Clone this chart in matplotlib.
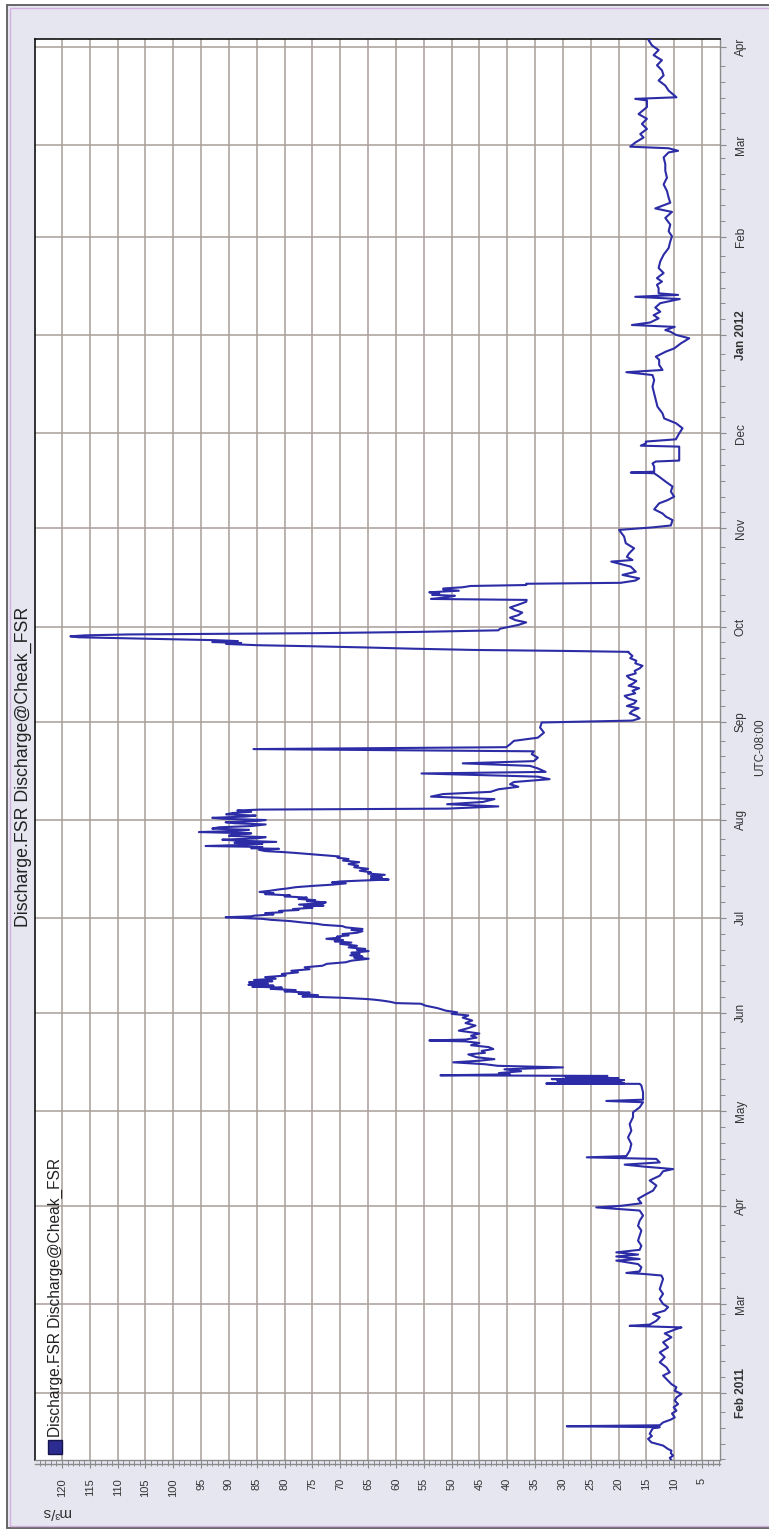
import numpy as np
import matplotlib
matplotlib.use("Agg")
import matplotlib.pyplot as plt
import matplotlib.dates as mdates
from matplotlib.patches import Rectangle
from matplotlib.lines import Line2D
from matplotlib.ticker import MultipleLocator, FixedLocator

plt.rcParams["font.family"] = ["Liberation Sans", "DejaVu Sans"]

# (days since 2011-02-01, discharge m3/s)
winter_2011 = [
    (-21.2, 10.5), (-20.5, 10.8), (-19.8, 10.2), (-19.0, 10.6), (-18.2, 10.5), (-17.7, 11.1),
    (-16.6, 12.0), (-15.6, 14.1), (-14.5, 14.7), (-13.6, 14.0), (-12.9, 14.4), (-11.9, 14.1),
    (-11.1, 13.8), (-10.8, 12.6), (-10.5, 29.3), (-10.2, 12.6), (-9.3, 12.0), (-8.4, 10.6),
    (-7.7, 9.9), (-6.5, 10.4), (-5.6, 9.6), (-4.5, 10.1), (-3.5, 9.3), (-2.4, 9.9), (-1.4, 9.6),
    (-0.3, 8.7), (0.7, 9.9), (1.8, 9.6), (2.8, 10.5), (3.9, 11.1), (5.5, 12.0), (6.5, 10.8),
    (8.1, 11.4), (9.7, 12.6), (11.3, 11.7), (12.8, 12.6), (14.4, 11.1), (16.0, 12.0), (17.6, 10.5),
    (18.8, 11.7), (20.2, 9.6), (20.7, 8.7), (21.2, 18.0), (21.6, 14.4), (22.8, 13.2), (23.9, 12.6),
    (24.9, 13.8), (26.0, 11.7), (27.1, 11.1), (28.1, 12.0), (29.7, 12.6), (31.3, 12.0), (32.8, 12.6),
    (34.4, 12.3), (36.0, 12.0), (37.1, 12.3), (37.6, 15.6), (37.9, 18.6), (38.4, 16.2), (39.7, 15.9),
    (40.7, 16.5), (41.8, 20.4), (42.3, 16.2), (43.1, 20.4), (43.7, 16.5), (44.4, 20.4), (45.2, 16.2),
    (46.5, 15.9), (48.1, 16.5), (49.7, 16.2), (51.3, 15.9), (52.8, 16.5), (54.4, 16.2), (56.0, 15.6),
    (57.6, 16.2), (58.6, 24.0), (59.1, 19.5), (59.9, 15.9), (61.3, 16.5), (62.8, 15.0), (63.9, 13.8),
    (65.5, 13.2), (67.1, 14.4), (68.6, 12.6), (70.0, 12.0), (70.7, 10.2), (71.5, 15.6), (72.1, 18.9),
    (72.8, 12.6), (73.9, 13.2), (74.4, 25.7), (74.8, 18.6), (76.5, 18.0), (78.6, 17.7), (80.7, 18.3),
    (82.8, 17.7), (84.9, 18.0), (87.1, 17.4), (88.6, 17.4), (90.2, 16.2), (91.8, 15.6), (92.2, 22.2),
    (92.6, 15.6), (94.9, 15.6), (97.1, 15.9),
]

freshet_may = [
    (97.6, 16.2), (97.7, 33.0), (97.8, 19.0), (98.1, 30.5), (98.3, 19.5), (98.6, 31.0), (98.8, 19.0),
    (99.1, 32.0), (99.4, 20.0), (99.8, 29.5), (100.1, 22.0), (100.3, 52.0), (100.6, 39.5),
    (101.0, 41.5), (101.6, 37.5), (102.2, 40.5), (102.8, 30.0), (103.3, 41.7), (103.8, 44.0),
    (104.4, 49.7), (104.9, 45.0), (105.4, 42.3), (106.0, 45.5), (106.9, 47.0), (107.4, 44.0),
    (108.0, 44.6), (108.6, 42.5), (109.2, 43.3), (109.8, 46.5), (110.5, 45.0), (111.0, 47.5),
    (111.3, 54.0), (111.6, 47.5), (112.2, 45.5), (112.8, 46.5), (113.5, 45.0), (114.4, 48.7),
    (115.2, 47.0), (116.0, 45.7), (116.8, 47.5), (117.6, 46.3), (118.5, 48.0), (119.2, 47.0),
    (119.7, 50.0), (120.2, 49.0), (120.7, 51.0), (121.5, 52.5), (122.3, 54.7), (122.9, 55.5),
    (123.1, 60.0), (123.5, 61.0), (123.9, 62.5), (124.2, 64.0),
]

summer_2011 = [
    (124.4, 65.4), (124.8, 70.0), (125.2, 76.8), (125.6, 74.0), (126.0, 77.5), (126.4, 75.5),
    (126.8, 80.0), (127.2, 78.0), (127.6, 82.5), (128.0, 80.5), (128.3, 85.8), (128.6, 82.0),
    (128.9, 86.5), (129.3, 83.0), (129.7, 86.4), (130.0, 82.2), (130.4, 85.5), (130.8, 81.6),
    (131.3, 83.5), (131.8, 79.8), (132.3, 80.5), (132.8, 77.6), (133.3, 78.8), (133.8, 75.5),
    (134.4, 76.4), (134.9, 73.2), (135.5, 72.4), (136.0, 69.0), (136.5, 68.0), (137.1, 64.9),
    (137.5, 67.5), (137.8, 66.0), (138.2, 68.2), (138.6, 66.5), (139.0, 68.0), (139.5, 64.9),
    (139.9, 67.0), (140.2, 65.5), (140.7, 68.5), (141.2, 67.0), (141.8, 70.0), (142.2, 68.0),
    (142.6, 71.0), (143.0, 69.5), (143.4, 72.5), (143.8, 70.0), (144.1, 70.6), (144.5, 68.5),
    (144.9, 69.6), (145.3, 67.0), (145.8, 66.0), (146.2, 68.0), (146.5, 66.0), (147.0, 69.0),
    (147.4, 69.6), (147.8, 73.0), (148.2, 74.5), (148.6, 77.0), (149.0, 79.0), (149.4, 82.5),
    (149.7, 84.0), (150.0, 88.0), (150.2, 90.6), (150.5, 86.0), (150.7, 85.5), (151.1, 82.0),
    (151.5, 83.5), (151.8, 80.4), (152.2, 81.0), (152.5, 77.5), (152.8, 78.5), (153.2, 75.0),
    (153.6, 76.5), (153.9, 73.0), (154.2, 77.4), (154.6, 73.5), (154.9, 72.6), (155.3, 76.0),
    (155.6, 74.5), (156.0, 77.5), (156.4, 76.0), (156.8, 80.0), (157.1, 79.0), (157.5, 83.5),
    (157.8, 82.0), (158.2, 84.5), (158.6, 82.5), (159.0, 81.0), (159.3, 79.5), (159.7, 78.0),
    (160.1, 75.0), (160.5, 71.4), (160.9, 69.0), (161.2, 71.5), (161.5, 70.0), (161.8, 66.0),
    (162.1, 61.3), (162.5, 64.5), (162.8, 62.5), (163.2, 64.5), (163.6, 62.0), (164.0, 65.0),
    (164.4, 64.5), (164.9, 66.5), (165.5, 65.0), (166.0, 67.5), (166.5, 66.8), (167.0, 68.5),
    (167.6, 66.6), (168.1, 69.5), (168.6, 68.5), (169.0, 70.5), (169.4, 70.2), (169.8, 73.0),
    (170.2, 75.6), (170.5, 78.0), (170.8, 80.4), (171.1, 83.5), (171.5, 84.6), (171.8, 81.0),
    (172.0, 86.0), (172.4, 84.0), (172.7, 94.2), (173.0, 88.0), (173.4, 84.0), (173.7, 89.0),
    (174.0, 81.5), (174.4, 88.5), (174.7, 91.2), (175.1, 85.0), (175.5, 83.4), (175.9, 90.0),
    (176.3, 89.4), (176.7, 86.0), (177.1, 95.4), (177.5, 88.0), (177.8, 86.4), (178.2, 93.0),
    (178.6, 91.8), (179.0, 86.0), (179.5, 83.4), (179.9, 89.0), (180.2, 90.6), (180.6, 85.0),
    (180.9, 83.4), (181.3, 91.0), (181.6, 93.0), (182.0, 87.0), (182.3, 85.2), (182.7, 90.5),
    (183.1, 89.4), (183.5, 86.0), (183.9, 88.5), (184.2, 84.5),
]

late_summer_2011 = [
    (184.5, 50.8), (185.2, 41.6), (185.9, 50.8), (186.6, 44.4), (187.5, 42.3), (188.3, 53.7),
    (189.1, 51.5), (189.8, 43.0), (190.6, 41.6), (191.4, 38.0), (192.2, 39.5), (192.9, 38.8),
    (193.8, 32.4), (194.6, 34.5), (195.6, 55.4), (196.1, 33.1), (197.2, 34.5), (198.0, 35.9),
    (198.8, 48.0), (199.5, 35.2), (200.6, 34.5), (201.7, 35.6), (202.6, 35.2), (203.3, 85.6),
    (203.9, 40.2), (204.8, 39.5), (205.9, 38.8), (206.9, 34.5), (208.5, 33.4), (210.1, 34.1),
    (211.7, 33.8), (212.3, 17.5), (213.0, 16.2), (213.8, 16.8), (214.6, 18.0), (215.4, 17.5),
    (216.2, 16.4), (216.9, 18.5), (217.7, 17.2), (218.5, 16.8), (219.3, 18.3), (220.1, 18.9),
    (220.9, 17.0), (221.7, 17.5), (222.5, 16.3), (223.3, 18.2), (224.0, 17.4), (224.8, 16.8),
    (225.6, 18.0), (226.4, 18.5), (227.2, 16.9), (228.0, 17.1), (228.8, 16.2), (229.6, 15.7),
    (230.4, 17.0), (231.2, 16.8), (232.0, 17.9), (232.7, 17.5), (233.8, 18.2),
]

fall_storm_2011 = [
    (234.0, 18.2), (234.3, 30.0), (234.6, 45.9), (235.0, 57.0), (235.4, 65.7), (235.8, 76.0),
    (236.1, 84.9), (236.5, 90.5), (236.8, 87.8), (237.1, 93.0), (237.4, 88.4), (237.7, 92.7),
    (238.0, 101.0), (238.3, 110.0), (238.6, 117.0), (238.9, 118.5), (239.2, 116.0), (239.5, 108.0),
    (239.9, 74.2), (240.3, 56.0), (240.8, 41.6), (241.3, 41.3), (241.7, 40.2), (242.5, 38.0),
    (243.3, 36.6), (244.0, 38.5), (244.8, 39.5), (245.6, 38.0), (246.4, 37.3), (247.2, 38.6),
    (248.0, 39.5), (248.9, 38.0), (249.8, 36.6), (250.4, 36.5), (250.7, 53.7), (251.2, 51.0),
    (251.7, 49.4), (252.0, 53.5), (252.4, 52.2), (252.8, 54.0), (253.3, 48.7), (253.7, 51.5),
    (254.0, 51.5), (254.4, 48.0), (254.8, 46.6), (255.1, 36.6), (255.5, 36.6), (255.8, 19.6),
]

autumn_2011 = [
    (256.5, 17.0), (257.2, 16.3), (258.3, 19.3), (259.3, 16.9), (260.9, 17.8), (262.5, 21.3),
    (263.0, 17.5), (264.0, 18.5), (265.1, 18.1), (266.7, 17.2), (268.3, 18.7), (270.4, 19.0),
    (272.5, 19.9), (273.3, 13.9), (273.9, 10.6), (275.6, 10.3), (276.7, 11.5), (277.7, 12.1),
    (279.0, 13.6), (280.9, 12.7), (281.9, 11.2), (283.0, 10.0), (284.6, 10.6), (286.2, 10.3),
    (287.7, 11.5), (289.3, 12.7), (290.4, 13.6), (290.6, 17.8), (290.9, 13.6), (292.5, 13.6),
    (293.5, 13.9), (294.1, 13.3), (294.4, 9.1), (296.7, 9.1), (298.8, 9.1), (299.1, 16.0),
    (299.8, 15.1), (300.4, 15.1), (301.1, 9.7), (303.0, 9.1), (304.6, 8.5), (306.2, 9.7),
    (307.7, 11.8), (309.3, 12.1), (311.4, 13.0), (313.5, 13.3), (315.6, 13.6), (317.7, 13.9),
    (319.8, 13.6), (321.4, 13.9), (322.3, 18.6), (323.0, 12.1), (324.6, 12.7), (326.2, 12.7),
    (327.2, 13.3), (328.8, 11.5), (329.8, 10.0), (331.4, 8.8), (333.0, 7.3),
]

winter_2012 = [
    (334.1, 9.7), (335.1, 10.7), (335.6, 11.6), (336.6, 9.9), (337.2, 17.6), (338.0, 14.3),
    (339.3, 12.8), (340.3, 13.7), (341.4, 12.5), (342.7, 13.4), (344.1, 12.5), (345.4, 9.0),
    (346.1, 17.0), (346.7, 9.3), (347.2, 12.8), (348.8, 12.8), (349.9, 13.1), (350.9, 12.2),
    (352.0, 13.1), (353.6, 11.9), (355.2, 12.8), (357.3, 12.5), (359.4, 11.9), (361.5, 11.0),
    (363.6, 10.7), (365.2, 10.4), (366.8, 11.0), (368.9, 10.7), (371.0, 11.6), (372.9, 10.4),
    (374.0, 13.4), (375.8, 10.7), (377.4, 11.0), (379.5, 11.3), (381.6, 11.9), (383.7, 11.3),
    (385.9, 11.6), (388.0, 11.6), (390.1, 11.9), (391.7, 11.0), (392.2, 9.3), (393.0, 11.0),
    (393.5, 17.9), (394.8, 17.0), (396.4, 15.5), (397.5, 16.1), (399.1, 14.9), (400.7, 15.8),
    (402.3, 14.9), (403.8, 16.4), (406.0, 14.9), (408.1, 14.9), (408.6, 17.0), (409.1, 9.6),
    (411.2, 11.0), (412.8, 11.6), (414.4, 12.8), (416.0, 11.9), (417.6, 12.2), (419.2, 13.1),
    (420.8, 12.2), (422.4, 13.7), (424.0, 12.8), (425.5, 14.0), (427.1, 14.6), (427.6, 14.2),
]

month_starts = ["2011-02-01", "2011-03-01", "2011-04-01", "2011-05-01", "2011-06-01",
                "2011-07-01", "2011-08-01", "2011-09-01", "2011-10-01", "2011-11-01",
                "2011-12-01", "2012-01-01", "2012-02-01", "2012-03-01", "2012-04-01"]
month_labels = ["Feb 2011", "Mar", "Apr", "May", "Jun", "Jul", "Aug", "Sep", "Oct", "Nov",
                "Dec", "Jan 2012", "Feb", "Mar", "Apr"]

title = "Discharge.FSR Discharge@Cheak_FSR"
series_name = "Discharge.FSR Discharge@Cheak_FSR"

START = np.datetime64("2011-02-01T00:00")


def to_time(days):
    return START + np.round(np.asarray(days, dtype=float) * 1440).astype("timedelta64[m]")


segments = [winter_2011, freshet_may, summer_2011, late_summer_2011,
            fall_storm_2011, autumn_2011, winter_2012]
records = np.array([p for seg in segments for p in seg])
t = to_time(records[:, 0])
q = records[:, 1]

W, H = 769, 1533
fig = plt.figure(figsize=(W / 100, H / 100), dpi=100, facecolor="white")

# window-style outer frame, kept behind the axes
fig.patches.append(Rectangle((7 / W, 5 / H), 1.0, 1523 / H, transform=fig.transFigure,
                             facecolor="#e6e6f1", edgecolor="#5c5c5c", lw=1.3, zorder=-2))
fig.patches.append(Rectangle((9.5 / W, 7.5 / H), 1.0, 1518 / H, transform=fig.transFigure,
                             fill=False, edgecolor="#d6aee0", lw=1.0, zorder=-1))

ax = fig.add_axes([35 / W, 73 / H, 685 / W, 1421 / H])
ax.set_facecolor("white")
ax.plot(q, t, color="#2c2ca6", lw=1.5, zorder=3)

ax.set_xlim(124.85, 1.77)
ax.set_ylim(to_time(-21.16), to_time(427.5))

ax.xaxis.set_major_locator(MultipleLocator(5))
ax.xaxis.set_minor_locator(MultipleLocator(1))
ax.xaxis.set_major_formatter(matplotlib.ticker.FormatStrFormatter("%d"))

month_pos = mdates.date2num(np.array(month_starts, dtype="datetime64[D]"))
ax.yaxis.set_major_locator(FixedLocator(month_pos))
ax.yaxis.set_minor_locator(mdates.DayLocator(bymonthday=[6, 11, 16, 21, 26]))
ax.yaxis.tick_right()
ax.set_yticklabels(month_labels, rotation=90, va="center", fontsize=8.5, color="#333333")
for lab in ax.get_yticklabels():
    if " " in lab.get_text():
        lab.set_fontweight("bold")

for lab in ax.get_xticklabels():
    lab.set_rotation(90)
ax.tick_params(axis="x", which="major", direction="out", length=6, width=0.8,
               color="#8a8a8a", pad=7, labelsize=8, labelcolor="#333333")
ax.tick_params(axis="x", which="minor", direction="out", length=4, width=0.7, color="#8a8a8a")
ax.tick_params(axis="y", which="major", direction="out", length=4.5, width=0.8,
               color="#8a8a8a", pad=6)
ax.tick_params(axis="y", which="minor", direction="out", length=3.4, width=0.7, color="#8a8a8a")

ax.grid(True, which="major", color="#a89e98", lw=1.1, zorder=1)
ax.set_axisbelow(True)

for side in ("left", "top"):
    ax.spines[side].set_color("#111111")
    ax.spines[side].set_linewidth(1.2)
for side in ("right", "bottom"):
    ax.spines[side].set_color("#8a8a8a")
    ax.spines[side].set_linewidth(1.0)
ax.add_line(Line2D([0, 1], [-4 / 1421, -4 / 1421], transform=ax.transAxes,
                   color="#8a8a8a", lw=1.0, clip_on=False))

# legend entry in the top-left corner of the plot
ax.plot([0.0295], [0.0095], marker="s", ms=9.5, mfc="#2b2b90", mec="#15154a",
        transform=ax.transAxes, clip_on=False, zorder=5)
ax.text(0.0297, 0.0165, series_name, rotation=90, ha="center", va="bottom",
        fontsize=11.2, color="#222222", transform=ax.transAxes, zorder=5)

fig.text(23.5 / W, 0.5, title, rotation=90, ha="center", va="center",
         fontsize=12.8, color="#222222")
fig.text(760 / W, (H - 747) / H, "UTC-08:00", rotation=90, ha="center", va="center",
         fontsize=8.5, color="#333333")
fig.text(56 / W, (H - 1512) / H, "m³/s", rotation=180, ha="center", va="center",
         fontsize=11, color="#333333")

fig.savefig("out.png", dpi=100)
